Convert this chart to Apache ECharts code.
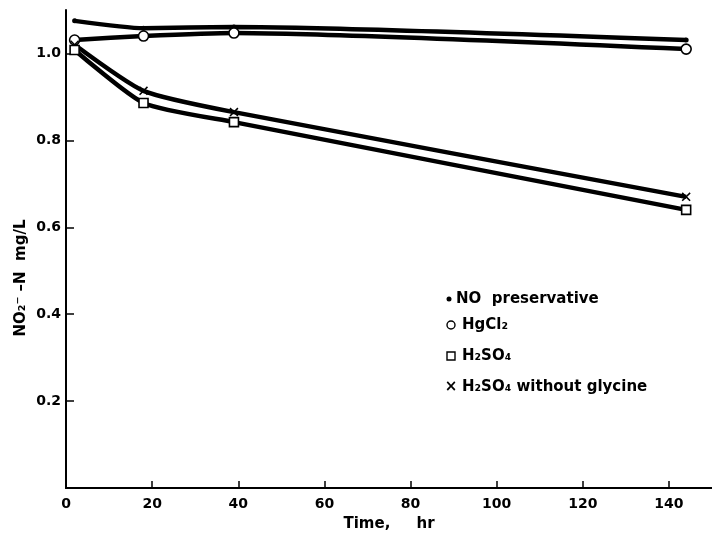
<!DOCTYPE html>
<html>
<head>
<meta charset="utf-8">
<script src="https://cdn.jsdelivr.net/npm/echarts@6/dist/echarts.min.js"></script>
<style>html,body{margin:0;padding:0;background:#fff}#c{width:712px;height:540px}</style>
</head>
<body>
<div id="c"></div>
<script>
// Data
var times = [2, 18, 39, 144];
var noPreservative = [1.075, 1.058, 1.061, 1.031];
var hgcl2 = [1.031, 1.040, 1.047, 1.010];
var h2so4 = [1.008, 0.886, 0.842, 0.640];
var h2so4NoGlycine = [1.020, 0.914, 0.865, 0.670];
var seriesNames = ['NO  preservative', 'HgCl\u2082', 'H\u2082SO\u2084', 'H\u2082SO\u2084 without glycine'];
var xTickLabels = ['0', '20', '40', '60', '80', '100', '120', '140'];
var yTickLabels = ['0.2', '0.4', '0.6', '0.8', '1.0'];

function pairs(ys) { return times.map(function (t, i) { return [t, ys[i]]; }); }

var FONT = 'DejaVu Sans';
var crossPath = 'path://M0,1.2L1.2,0L5,3.8L8.8,0L10,1.2L6.2,5L10,8.8L8.8,10L5,6.2L1.2,10L0,8.8L3.8,5Z';

var chart = echarts.init(document.getElementById('c'), null, {renderer: 'canvas'});
var base = {
  type: 'line', smooth: 0.2,
  lineStyle: {color: '#000', width: 4.5},
  itemStyle: {color: '#fff', borderColor: '#000', borderWidth: 1.6},
  showAllSymbol: true, animation: false, z: 3
};
function mk(name, ys, extra) {
  return Object.assign({}, base, {name: name, data: pairs(ys)}, extra);
}
var LF = 'bold 15px "DejaVu Sans"';
chart.setOption({
  animation: false,
  grid: {left: 66, right: 0, top: 10, bottom: 52, containLabel: false},
  xAxis: [{
    type: 'value', min: 0, max: 150, interval: 20,
    name: 'Time,     hr', nameLocation: 'middle', nameGap: 29,
    nameTextStyle: {fontFamily: FONT, fontWeight: 'bold', fontSize: 15, color: '#000'},
    axisLine: {show: true, onZero: false, lineStyle: {color: '#000', width: 2}},
    axisTick: {show: true, inside: true, length: 7, lineStyle: {color: '#000', width: 1.5}},
    axisLabel: {
      margin: 9, color: '#000', fontFamily: FONT, fontWeight: 'bold', fontSize: 14,
      showMaxLabel: false,
      formatter: function (v) { var i = Math.round(v / 20); return (v % 20 === 0 && i < xTickLabels.length) ? xTickLabels[i] : ''; }
    },
    splitLine: {show: false}
  }, {
    type: 'value', position: 'top', min: 0, max: 150,
    axisLine: {show: true, lineStyle: {color: '#000', width: 2}},
    axisTick: {show: false}, axisLabel: {show: false}, splitLine: {show: false}
  }],
  yAxis: {
    type: 'value', min: 0, max: 1.1, interval: 0.2,
    axisLine: {show: true, onZero: false, lineStyle: {color: '#000', width: 2}},
    axisTick: {show: true, inside: true, length: 8, lineStyle: {color: '#000', width: 1.5}},
    axisLabel: {
      margin: 5, color: '#000', fontFamily: FONT, fontWeight: 'bold', fontSize: 14,
      showMaxLabel: false, showMinLabel: false,
      formatter: function (v) { var i = Math.round(v / 0.2) - 1; return (i >= 0 && i < yTickLabels.length && Math.abs(v - (i + 1) * 0.2) < 1e-6) ? yTickLabels[i] : ''; }
    },
    splitLine: {show: false}
  },
  series: [
    mk(seriesNames[0], noPreservative, {symbol: 'circle', symbolSize: 5, itemStyle: {color: '#000', borderColor: '#000', borderWidth: 0}}),
    mk(seriesNames[1], hgcl2, {symbol: 'circle', symbolSize: 10}),
    mk(seriesNames[3], h2so4NoGlycine, {symbol: crossPath, symbolSize: 9, itemStyle: {color: '#000', borderWidth: 0}}),
    mk(seriesNames[2], h2so4, {symbol: 'rect', symbolSize: 9})
  ],
  graphic: [
    {type: 'text', x: 21, y: 278, rotation: Math.PI / 2,
     style: {text: 'NO\u2082\u207B \u2013N  mg/L', font: LF, fill: '#000', align: 'center', verticalAlign: 'middle'}},
    {type: 'circle', shape: {cx: 449, cy: 299, r: 2.5}, style: {fill: '#000'}},
    {type: 'text', x: 456, y: 299, style: {text: seriesNames[0], font: LF, fill: '#000', verticalAlign: 'middle'}},
    {type: 'circle', shape: {cx: 451, cy: 325, r: 4}, style: {fill: '#fff', stroke: '#000', lineWidth: 1.4}},
    {type: 'text', x: 462, y: 325, style: {text: seriesNames[1], font: LF, fill: '#000', verticalAlign: 'middle'}},
    {type: 'rect', shape: {x: 447, y: 352, width: 8, height: 8}, style: {fill: '#fff', stroke: '#000', lineWidth: 1.4}},
    {type: 'text', x: 462, y: 356, style: {text: seriesNames[2], font: LF, fill: '#000', verticalAlign: 'middle'}},
    {type: 'text', x: 451, y: 387, style: {text: '\u00D7', font: LF, fill: '#000', align: 'center', verticalAlign: 'middle'}},
    {type: 'text', x: 462, y: 387, style: {text: seriesNames[3], font: LF, fill: '#000', verticalAlign: 'middle'}}
  ]
});
</script>
</body>
</html>
